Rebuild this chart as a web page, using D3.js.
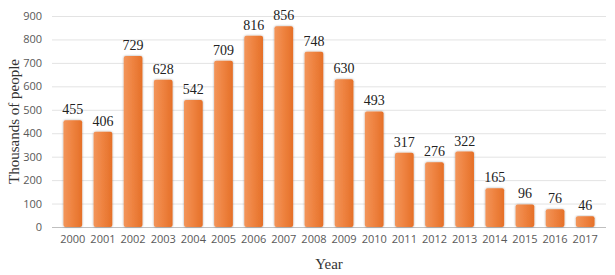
<!DOCTYPE html>
<html>
<head>
<meta charset="utf-8">
<script src="https://cdn.jsdelivr.net/npm/d3@7"></script>
<style>
  body { margin: 0; background: #fff; }
</style>
</head>
<body>
<script>
// data
const years = ["2000","2001","2002","2003","2004","2005","2006","2007","2008",
               "2009","2010","2011","2012","2013","2014","2015","2016","2017"];
const people = [455, 406, 729, 628, 542, 709, 816, 856, 748,
                630, 493, 317, 276, 322, 165, 96, 76, 46];
const yTicks = [0, 100, 200, 300, 400, 500, 600, 700, 800, 900];

const width = 615, height = 275;
const margin = {top: 16, right: 9, bottom: 48, left: 52};

let svg = d3.select("body")
            .append("svg")
            .attr("width", width)
            .attr("height", height);

// gradient for the bars
let defs = svg.append("defs");
let grad = defs.append("linearGradient")
               .attr("id", "barGrad")
               .attr("x1", "0").attr("x2", "1")
               .attr("y1", "0").attr("y2", "0");
grad.append("stop").attr("offset", "0%").attr("stop-color", "#f2955a");
grad.append("stop").attr("offset", "45%").attr("stop-color", "#ef8442");
grad.append("stop").attr("offset", "100%").attr("stop-color", "#e57028");
let shadow = defs.append("filter").attr("id", "shadow")
                 .attr("x", "-30%").attr("y", "-10%").attr("width", "160%").attr("height", "120%");
shadow.append("feDropShadow").attr("dx", 0).attr("dy", 0)
      .attr("stdDeviation", 1.2).attr("flood-color", "#000").attr("flood-opacity", 0.35);

let x = d3.scaleBand()
          .domain(years)
          .range([margin.left, width - margin.right])
          .padding(0.38);

let y = d3.scaleLinear()
          .domain([0, 900])
          .range([height - margin.bottom, margin.top]);

// gridlines
svg.append("g")
   .selectAll("line")
   .data(yTicks)
   .enter()
   .append("line")
   .attr("x1", margin.left)
   .attr("x2", width - margin.right)
   .attr("y1", d => y(d) + 0.5)
   .attr("y2", d => y(d) + 0.5)
   .style("stroke", d => d === 0 ? "#bfbfbf" : "#e3e3e3")
   .style("stroke-width", 1);

// y axis labels
let yAxis = d3.axisLeft(y).tickValues(yTicks).tickSize(0).tickPadding(10);
svg.append("g")
   .attr("transform", "translate(" + margin.left + ",0)")
   .call(yAxis)
   .call(g => g.select(".domain").remove())
   .selectAll("text")
   .style("font-family", "'Open Sans', sans-serif")
   .style("font-size", "11px")
   .style("fill", "#595959");

// x axis labels
let xAxis = d3.axisBottom(x).tickSize(0).tickPadding(8);
svg.append("g")
   .attr("transform", "translate(0," + y(0) + ")")
   .call(xAxis)
   .call(g => g.select(".domain").remove())
   .selectAll("text")
   .style("font-family", "'Open Sans', sans-serif")
   .style("font-size", "11px")
   .style("fill", "#595959");

// bars
svg.append("g")
   .selectAll("rect")
   .data(people)
   .enter()
   .append("rect")
   .attr("x", (d, i) => x(years[i]))
   .attr("y", d => y(d))
   .attr("width", x.bandwidth())
   .attr("height", d => y(0) - y(d))
   .attr("rx", 2)
   .style("fill", "url(#barGrad)")
   .style("filter", "url(#shadow)");

// value labels
svg.append("g")
   .selectAll("text")
   .data(people)
   .enter()
   .append("text")
   .attr("x", (d, i) => x(years[i]) + x.bandwidth() / 2)
   .attr("y", d => y(d) - 6)
   .style("text-anchor", "middle")
   .style("font-family", "'Liberation Serif', serif")
   .style("font-size", "14px")
   .style("fill", "#222")
   .text(d => d);

// axis titles
svg.append("text")
   .attr("x", (margin.left + width - margin.right) / 2)
   .attr("y", 269)
   .style("text-anchor", "middle")
   .style("font-family", "'Liberation Serif', serif")
   .style("font-size", "15px")
   .style("fill", "#333")
   .text("Year");

svg.append("text")
   .attr("transform", "translate(19," + (margin.top + (y(0) - margin.top) / 2) + ") rotate(-90)")
   .style("text-anchor", "middle")
   .style("font-family", "'Liberation Serif', serif")
   .style("font-size", "15px")
   .style("fill", "#333")
   .text("Thousands of people");
</script>
</body>
</html>
